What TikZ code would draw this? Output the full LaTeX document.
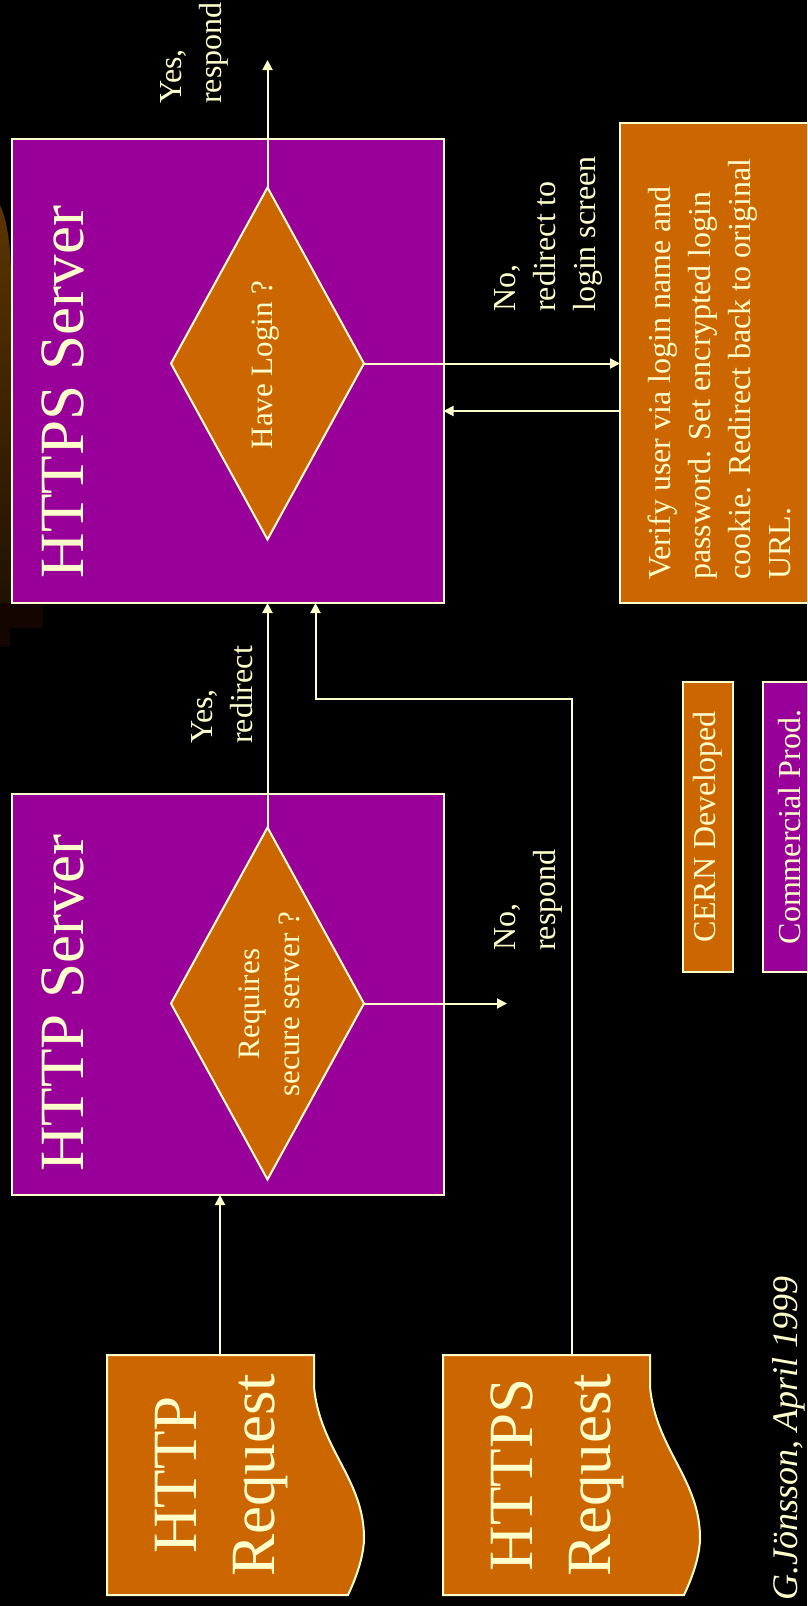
\documentclass[tikz,border=0pt]{standalone}
\usepackage{fontspec}
\setmainfont{Liberation Serif}
\usetikzlibrary{arrows.meta,shapes.geometric}
\definecolor{pur}{HTML}{990099}
\definecolor{org}{HTML}{CC6600}
\definecolor{ylw}{HTML}{FFFFCC}
\definecolor{glow}{RGB}{92,52,0}
\definecolor{glowlow}{RGB}{28,16,0}
\definecolor{dimred}{RGB}{20,5,0}
\begin{document}
\begin{tikzpicture}[x=1pt,y=-1pt,
  box/.style={draw=ylw, line width=2pt, outer sep=0pt, inner sep=0pt, anchor=north west},
  pbox/.style={box, fill=pur},
  obox/.style={box, fill=org},
  conn/.style={draw=ylw, line width=2pt},
  arr/.style={conn, -{Triangle[length=10pt,width=10pt]}},
  dia/.style={diamond, draw=ylw, fill=org, line width=2pt, inner sep=0pt, outer sep=0pt, minimum width=193pt, minimum height=352pt},
  rtxt/.style={rotate=90, text=ylw, inner sep=0pt},
  lbl/.style={rtxt, anchor=north west, align=left, font=\fontsize{32pt}{40pt}\selectfont},
  smalltxt/.style={rtxt, font=\fontsize{32pt}{40pt}\selectfont},
  dtxt/.style={rtxt, align=center, font=\fontsize{31pt}{40pt}\selectfont},
  ttl/.style={rtxt, align=center, font=\fontsize{63pt}{78pt}\selectfont},
]
\fill[black] (0,0) rectangle (807,1606);
\useasboundingbox (0,0) rectangle (807,1606);
\clip (0,0) rectangle (807,1606);

% background glow at the left edge
\shade[top color=glow, bottom color=glowlow] (0,205) .. controls (7,220) and (11,245) .. (11,280) -- (11,628) -- (0,628) -- cycle;
\fill[dimred] (0,603) rectangle (43,628);
\fill[dimred] (0,628) rectangle (10,647);

% server boxes
\node[pbox, minimum width=432pt, minimum height=464pt] (https) at (11.5,139) {};
\node[pbox, minimum width=432pt, minimum height=401pt] (http) at (11.5,794) {};
\node[ttl] (httpsT) at (62.5,392) {HTTPS Server};
\node[ttl] (httpT) at (62.5,1003) {HTTP Server};

% decisions
\node[dia] (hl) at (267.5,363.5) {};
\node[dia] (rs) at (267.5,1003.5) {};
\node[dtxt] (hlT) at (266,365) {Have Login ?};
\node[dtxt] (rsT) at (269.5,1004) {Requires\\secure server ?};

% login box and legend
\node[obox, minimum width=220pt, minimum height=480pt] (verify) at (620,123) {};
\node[lbl] (verifyT) at (648,580) {Verify user via login name and\\password. Set encrypted login\\cookie. Redirect back to original\\URL.};
\node[obox, minimum width=50pt, minimum height=290pt] (cern) at (683,682) {};
\node[pbox, minimum width=50pt, minimum height=290pt] (comm) at (763,682) {};
\node[smalltxt] (cernT) at (cern.center) {CERN Developed};
\node[smalltxt] (commT) at ([xshift=2pt]comm.center) {Commercial Prod.};

% requests
\filldraw[draw=ylw, fill=org, line width=2pt] (107,1355) -- (314,1355) -- (314,1387) .. controls (320,1450) and (365,1480) .. (364,1540) .. controls (363,1560) and (355,1580) .. (348,1595) -- (107,1595) -- cycle;
\filldraw[xshift=336pt, draw=ylw, fill=org, line width=2pt] (107,1355) -- (314,1355) -- (314,1387) .. controls (320,1450) and (365,1480) .. (364,1540) .. controls (363,1560) and (355,1580) .. (348,1595) -- (107,1595) -- cycle;
\node[ttl] (reqAT) at (221.7,1475) {HTTP\\Request};
\node[ttl] (reqBT) at (557.7,1475) {HTTPS\\Request};

% labels
\node[lbl] (l1) at (160,104) {Yes,\\respond};
\node[lbl] (l2) at (494,312) {No,\\redirect to\\login screen};
\node[lbl] (l3) at (191,744) {Yes,\\redirect};
\node[lbl] (l4) at (494,951) {No,\\respond};
\node[rtxt, anchor=base west, font=\fontsize{36pt}{44pt}\selectfont\itshape] (auth) at (797,1601) {G.Jönsson, April 1999};

% connector end points
\coordinate (reqA) at (220,1355);
\coordinate (reqB) at (572,1355);
\coordinate (yesresp) at (267.5,60);
\coordinate (norsp) at (507,1003.5);
\coordinate (retY) at (0,411);
\coordinate (joinY) at (0,699);
\coordinate (inB) at (315.5,0);

% connectors
\draw[arr] (reqA) -- (reqA |- http.south);
\draw[arr] (reqB) |- (inB |- joinY) -- (inB |- https.south);
\draw[arr] (rs.north) -- (rs.north |- https.south);
\draw[arr] (rs.east) -- (norsp);
\draw[arr] (hl.north) -- (yesresp);
\draw[arr] (hl.east) -- (hl.east -| verify.west);
\draw[arr] (verify.west |- retY) -- (https.east |- retY);
\end{tikzpicture}
\end{document}
